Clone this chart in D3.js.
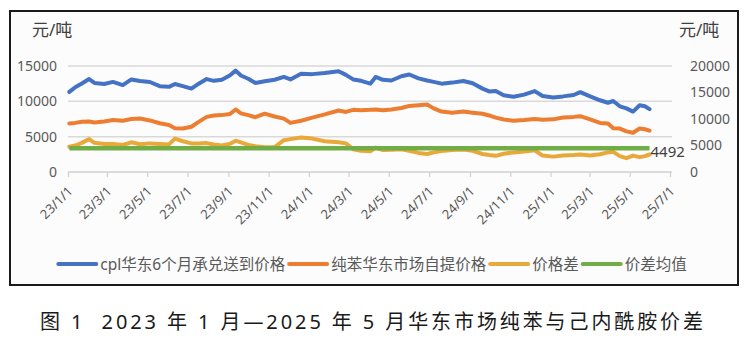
<!DOCTYPE html>
<html><head><meta charset="utf-8">
<script src="https://cdn.jsdelivr.net/npm/d3@7/dist/d3.min.js"></script>
<style>
html,body{margin:0;padding:0;background:#fff;}
svg text{font-family:"Noto Sans","Noto Sans CJK SC",sans-serif;white-space:pre;}
</style></head>
<body>
<svg id="chart" width="755" height="345"></svg>
<script>
// ---- data ----
const dates = ["2023-01-03","2023-01-12","2023-01-22","2023-02-02","2023-02-10","2023-02-25","2023-03-10","2023-03-25","2023-04-07","2023-04-20",
"2023-05-05","2023-05-20","2023-06-03","2023-06-12","2023-06-24","2023-07-07","2023-07-18","2023-07-30","2023-08-10","2023-08-22",
"2023-09-03","2023-09-12","2023-09-20","2023-10-01","2023-10-12","2023-10-26","2023-11-10","2023-11-24","2023-12-04","2023-12-20",
"2024-01-06","2024-01-25","2024-02-15","2024-02-26","2024-03-08","2024-03-20","2024-04-03","2024-04-11","2024-04-22","2024-05-05",
"2024-05-20","2024-06-01","2024-06-15","2024-06-28","2024-07-08","2024-07-20","2024-08-05","2024-08-22","2024-09-05","2024-09-20",
"2024-09-30","2024-10-10","2024-10-22","2024-11-06","2024-11-22","2024-12-08","2024-12-20","2025-01-05","2025-01-20","2025-02-05",
"2025-02-15","2025-03-02","2025-03-17","2025-03-29","2025-04-06","2025-04-16","2025-04-26","2025-05-06","2025-05-16","2025-05-24","2025-05-31"];
const cplPrice = [11330,12000,12515,13150,12600,12450,12750,12300,13100,12880,
12740,12150,12050,12450,12150,11800,12500,13150,12900,13050,
13650,14350,13650,13200,12600,12850,13050,13450,13100,13900,
13850,14000,14250,13750,13100,12900,12500,13450,13050,12950,
13550,13800,13250,12950,12750,12500,12650,12880,12550,11800,
11400,11450,10850,10650,10950,11450,10750,10550,10700,10900,
11300,10700,10150,9800,10050,9300,9000,8550,9450,9300,8900];
const benzenePrice = [6870,6950,7100,7150,7000,7150,7350,7250,7500,7575,
7300,6900,6650,6200,6165,6400,7100,7800,8000,8050,
8200,8850,8300,8050,7750,8250,7850,7550,6950,7250,
7700,8150,8700,8500,8800,8750,8800,8850,8750,8850,
9050,9350,9450,9550,9000,8550,8400,8550,8400,8250,
8000,7700,7435,7250,7350,7500,7400,7450,7700,7800,
7900,7450,6950,6850,6200,6150,5750,5550,6150,6050,5850];
const priceGap = [4760,5000,5500,6200,5500,5300,5300,5100,5600,5250,
5400,5300,5200,6300,5800,5400,5400,5450,5200,5000,
5300,5900,5600,5100,4850,4650,4700,6000,6200,6500,
6300,5800,5600,5400,4300,4000,3900,4600,4150,4200,
4300,4000,3600,3400,3700,3950,4150,4250,4000,3400,
3200,3050,3450,3700,3850,4100,3100,2900,3100,3200,
3300,3100,3350,3700,3800,3000,2600,3100,2800,3000,3300];
const gapMean = 4492;
const seriesNames = ["cpl华东6个月承兑送到价格","纯苯华东市场自提价格","价格差","价差均值"];
const leftTicks = [0,5000,10000,15000];
const rightTicks = [0,5000,10000,15000,20000];
const xTickDates = ["2023-01-01","2023-03-01","2023-05-01","2023-07-01","2023-09-01","2023-11-01","2024-01-01","2024-03-01",
"2024-05-01","2024-07-01","2024-09-01","2024-11-01","2025-01-01","2025-03-01","2025-05-01","2025-07-01"];
const xTickLabels = ["23/1/1","23/3/1","23/5/1","23/7/1","23/9/1","23/11/1","24/1/1","24/3/1",
"24/5/1","24/7/1","24/9/1","24/11/1","25/1/1","25/3/1","25/5/1","25/7/1"];
const unitLabel = "元/吨";
const title = "图 1  2023 年 1 月—2025 年 5 月华东市场纯苯与己内酰胺价差";

// ---- drawing ----
const parse = d3.timeParse("%Y-%m-%d");
const D = dates.map(parse);
const colors = ["#4472C4","#ED7D31","#E9A83A","#70AD47"];
const svg = d3.select("#chart");

svg.append("rect").attr("x",10).attr("y",11).attr("width",728).attr("height",274)
  .attr("fill","#fcfcfc").attr("stroke","#1a1a1a").attr("stroke-width",2);

const x = d3.scaleTime().domain([parse(xTickDates[0]), parse(xTickDates[xTickDates.length-1])]).range([68,670]);
const yL = d3.scaleLinear().domain([0,15000]).range([172,66]);
const yR = d3.scaleLinear().domain([0,20000]).range([172,66]);

// gridlines
svg.append("g").selectAll("line").data(leftTicks.filter(v=>v>0)).join("line")
  .attr("x1",68).attr("x2",672).attr("y1",d=>yL(d)).attr("y2",d=>yL(d))
  .attr("stroke","#d9d9d9").attr("stroke-width",1.5);

// left axis
const gl = svg.append("g").attr("transform","translate(60,0)")
  .call(d3.axisLeft(yL).tickValues(leftTicks).tickSize(0).tickPadding(3).tickFormat(d3.format("d")));
gl.select(".domain").remove();
gl.selectAll("text").attr("fill","#595959").attr("font-size",14);

// right axis
const gr = svg.append("g").attr("transform","translate(687,0)")
  .call(d3.axisRight(yR).tickValues(rightTicks).tickSize(0).tickPadding(3).tickFormat(d3.format("d")));
gr.select(".domain").remove();
gr.selectAll("text").attr("fill","#595959").attr("font-size",14);

// x axis
const gx = svg.append("g").attr("transform","translate(0,172)")
  .call(d3.axisBottom(x).tickValues(xTickDates.map(parse)).tickSize(5).tickSizeOuter(0)
    .tickFormat((d,i)=>xTickLabels[i]));
gx.select(".domain").attr("stroke","#d0d0d0").attr("stroke-width",1.5).attr("d","M68,0H672");
gx.selectAll(".tick line").attr("stroke","#d0d0d0").attr("stroke-width",1.2);
gx.selectAll(".tick text").attr("fill","#595959").attr("font-size",13)
  .attr("text-anchor","end").attr("dy",0).attr("y",0)
  .attr("transform","translate(5,20) rotate(-45)");

// unit labels
svg.append("text").attr("x",32).attr("y",36).attr("font-size",17).attr("fill","#404040").text(unitLabel);
svg.append("text").attr("x",679).attr("y",36).attr("font-size",17).attr("fill","#404040").text(unitLabel);

// lines
const mk = (vals, ys) => d3.line().x((d,i)=>x(D[i])).y(d=>ys(d))(vals);
const lineStyle = (p,c,w)=>p.attr("fill","none").attr("stroke",c).attr("stroke-width",w)
  .attr("stroke-linejoin","round").attr("stroke-linecap","round");
lineStyle(svg.append("path").attr("d",mk(cplPrice,yL)),colors[0],4);
lineStyle(svg.append("path").attr("d",mk(benzenePrice,yL)),colors[1],4);
lineStyle(svg.append("path").attr("d",mk(priceGap,yR)),colors[2],4);
const meanVals = D.map(()=>gapMean);
lineStyle(svg.append("path").attr("d",mk(meanVals,yR)),colors[3],4.5).attr("stroke-linecap","butt");
svg.append("text").attr("x",x(D[D.length-1])+1).attr("y",yR(gapMean)+9)
  .attr("font-size",15).attr("fill","#404040").text(d3.format("d")(gapMean));

// legend
const lg = svg.append("g");
let cx = 0;
seriesNames.forEach((n,i)=>{
  const g = lg.append("g").attr("transform",`translate(${cx},0)`);
  g.append("line").attr("x1",0).attr("x2",38).attr("y1",0).attr("y2",0)
    .attr("stroke",colors[i]).attr("stroke-width",4).attr("stroke-linecap","round");
  const t = g.append("text").attr("x",42).attr("y",5.5).attr("font-size",15.5).attr("fill","#595959").text(n);
  cx += 42 + t.node().getComputedTextLength() + 4;
});
lg.attr("transform",`translate(${372.5-(cx-4)/2},264)`);

// title
svg.append("text").attr("x",40).attr("y",329)
  .attr("font-size",20).attr("fill","#1a1a1a").attr("textLength",663).attr("lengthAdjust","spacing").text(title);
</script>
</body></html>
